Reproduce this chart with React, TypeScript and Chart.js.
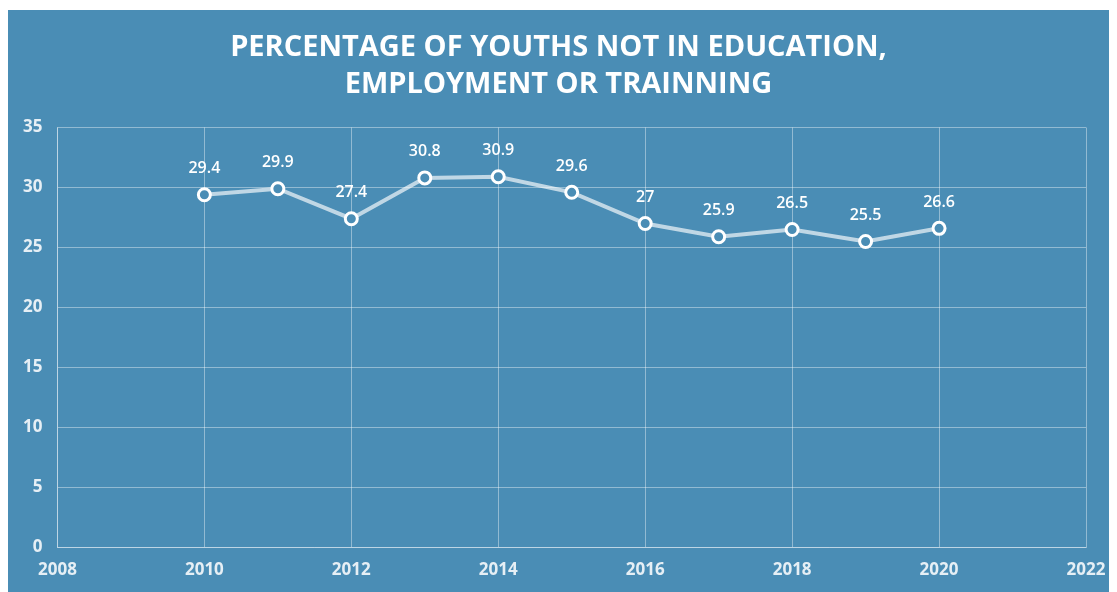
import React, { useEffect, useRef } from "react";
import { Chart, registerables } from "chart.js";

Chart.register(...registerables);

const years = [2010, 2011, 2012, 2013, 2014, 2015, 2016, 2017, 2018, 2019, 2020];
const values = [29.4, 29.9, 27.4, 30.8, 30.9, 29.6, 27, 25.9, 26.5, 25.5, 26.6];
const titleLines = ["PERCENTAGE OF YOUTHS NOT IN EDUCATION,", "EMPLOYMENT OR TRAINNING"];

const BG = "#4a8db5";
const FONT = "'Open Sans', 'DejaVu Sans', sans-serif";

const bgPlugin = {
  id: "bgFill",
  beforeDraw(chart: any) {
    const { ctx, width, height } = chart;
    ctx.save();
    ctx.fillStyle = BG;
    ctx.fillRect(0, 0, width, height);
    ctx.restore();
  },
};

const labelPlugin = {
  id: "pointLabels",
  afterDatasetsDraw(chart: any) {
    const { ctx } = chart;
    const meta = chart.getDatasetMeta(0);
    ctx.save();
    ctx.font = `600 16px ${FONT}`;
    ctx.fillStyle = "#ffffff";
    ctx.textAlign = "center";
    ctx.textBaseline = "middle";
    meta.data.forEach((pt: any, i: number) => {
      ctx.fillText(String(values[i]), pt.x, pt.y - 26);
    });
    ctx.restore();
  },
};

export default function App() {
  const ref = useRef<HTMLCanvasElement>(null);
  useEffect(() => {
    if (!ref.current) return;
    const chart = new Chart(ref.current, {
      type: "line",
      data: {
        datasets: [
          {
            data: years.map((y, i) => ({ x: y, y: values[i] })),
            borderColor: "rgba(255,255,255,0.65)",
            borderWidth: 4,
            pointRadius: 6,
            pointBorderWidth: 3,
            pointBorderColor: "#ffffff",
            pointBackgroundColor: BG,
            tension: 0,
          },
        ],
      },
      options: {
        animation: false,
        responsive: true,
        maintainAspectRatio: false,
        layout: { padding: { left: 0, right: 0, bottom: 0 } },
        plugins: {
          legend: { display: false },
          tooltip: { enabled: false },
          title: {
            display: true,
            text: titleLines,
            color: "#ffffff",
            font: { family: FONT, size: 29, weight: "bold", lineHeight: 1.25 },
            padding: { top: 20, bottom: 25 },
          },
        },
        scales: {
          x: {
            type: "linear",
            min: 2008,
            max: 2022,
            afterFit: (scale: any) => {
              scale.paddingRight = 23;
            },
            ticks: {
              stepSize: 2,
              color: "#e6eff5",
              font: { family: FONT, size: 17, weight: "bold" },
              padding: 12,
              callback: (v: any) => String(v),
            },
            grid: { color: "rgba(255,255,255,0.4)", drawTicks: false, lineWidth: 1 },
            border: { color: "rgba(255,255,255,0.4)" },
          },
          y: {
            min: 0,
            max: 35,
            ticks: {
              stepSize: 5,
              color: "#e6eff5",
              font: { family: FONT, size: 17, weight: "bold" },
              padding: 15,
            },
            grid: { color: "rgba(255,255,255,0.4)", drawTicks: false, lineWidth: 1 },
            border: { color: "rgba(255,255,255,0.4)" },
          },
        },
      },
      plugins: [bgPlugin, labelPlugin],
    });
    return () => chart.destroy();
  }, []);
  return (
    <div style={{ width: 1101, height: 582, marginTop: 2 }}>
      <canvas ref={ref} />
    </div>
  );
}
